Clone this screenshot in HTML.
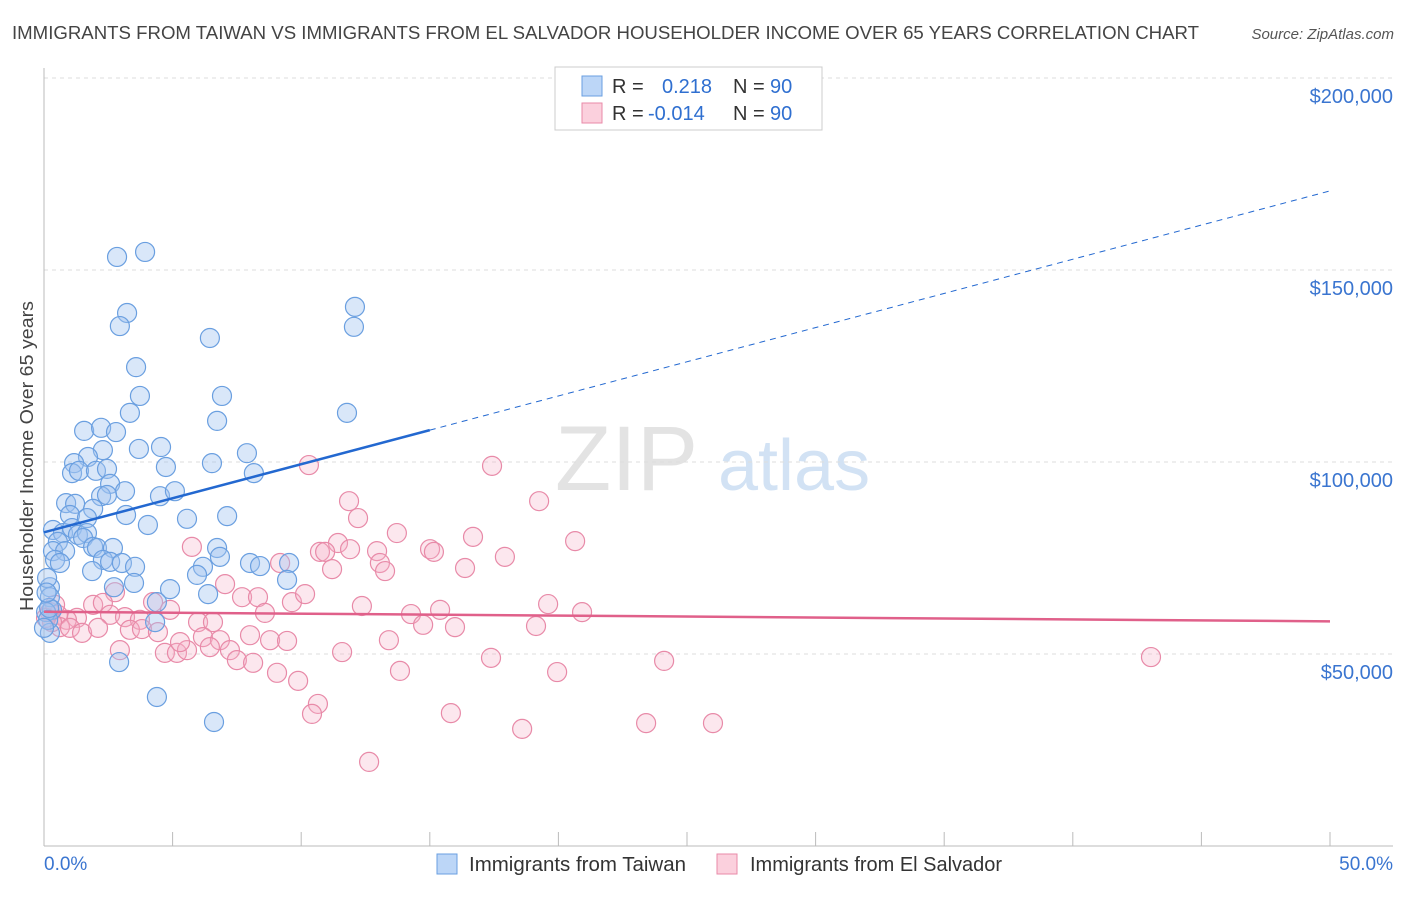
<!DOCTYPE html>
<html><head><meta charset="utf-8"><style>
body{margin:0;background:#fff;font-family:"Liberation Sans",sans-serif}
svg text{font-family:"Liberation Sans",sans-serif}
</style></head><body>
<svg id="c" width="1406" height="892" xmlns="http://www.w3.org/2000/svg">
<text x="12" y="39" font-size="18" fill="#444" textLength="1187" lengthAdjust="spacingAndGlyphs">IMMIGRANTS FROM TAIWAN VS IMMIGRANTS FROM EL SALVADOR HOUSEHOLDER INCOME OVER 65 YEARS CORRELATION CHART</text>
<text x="1394" y="39" font-size="15" fill="#555" font-style="italic" text-anchor="end">Source: ZipAtlas.com</text>
<text transform="translate(33,456) rotate(-90)" font-size="18" fill="#444" text-anchor="middle" textLength="310" lengthAdjust="spacingAndGlyphs">Householder Income Over 65 years</text>
<text x="555" y="490" font-size="92" fill="#ddd" font-family="Liberation Serif" opacity="0.8">ZIP</text>
<text x="718" y="490" font-size="72" fill="#c8dcf2" opacity="0.8">atlas</text>
<g id="grid"></g><g id="pts"></g><g id="lines"></g>
<g>
<rect x="555" y="67" width="267" height="63" fill="#fff" stroke="#ccc"/>
<rect x="582" y="76" width="20" height="20" fill="#bcd6f7" stroke="#6a9fe0"/>
<rect x="582" y="103" width="20" height="20" fill="#fbd0dd" stroke="#e88aa8"/>
<text x="612" y="93" font-size="20" fill="#333">R =</text>
<text x="662" y="93" font-size="20" fill="#2f6fd0">0.218</text>
<text x="733" y="93" font-size="20" fill="#333">N =</text>
<text x="770" y="93" font-size="20" fill="#2f6fd0">90</text>
<text x="612" y="120" font-size="20" fill="#333">R =</text>
<text x="648" y="120" font-size="20" fill="#2f6fd0">-0.014</text>
<text x="733" y="120" font-size="20" fill="#333">N =</text>
<text x="770" y="120" font-size="20" fill="#2f6fd0">90</text>
</g>
<g>
<rect x="437" y="854" width="20" height="20" fill="#bcd6f7" stroke="#6a9fe0"/>
<text x="469" y="871" font-size="20" fill="#333" textLength="217" lengthAdjust="spacingAndGlyphs">Immigrants from Taiwan</text>
<rect x="717" y="854" width="20" height="20" fill="#fbd0dd" stroke="#e88aa8"/>
<text x="750" y="871" font-size="20" fill="#333" textLength="252" lengthAdjust="spacingAndGlyphs">Immigrants from El Salvador</text>
</g>
</svg>
<script>
const yTicks=[50000,100000,150000,200000];
const yTickLabels=["$50,000","$100,000","$150,000","$200,000"];
const xTickLabels=["0.0%","50.0%"];
const blueX=[2.84,3.93,3.23,2.95,12.09,12.05,6.45,3.58,3.73,6.92,3.34,11.78,6.73,6.61,1.56,2.22,2.80,3.69,4.55,2.29,1.71,1.17,1.09,1.36,2.02,2.45,4.74,6.53,7.89,8.16,2.57,3.15,2.22,2.45,4.51,5.09,0.86,1.21,1.01,1.91,1.67,3.19,4.04,5.56,7.12,0.35,0.74,1.09,1.32,1.67,0.54,1.52,0.35,0.82,1.91,2.06,2.68,0.43,0.62,2.29,2.57,3.03,3.54,1.87,6.73,6.84,6.18,5.95,8.01,8.40,9.53,9.45,3.50,2.72,6.38,4.90,0.23,0.23,0.31,4.39,4.32,0.23,2.92,4.39,0.12,0.08,0.16,0,0.2,0.1];
const blueY=[153.4,154.7,138.8,135.4,140.4,135.2,132.3,124.7,117.2,117.2,112.8,112.8,110.7,32.3,108.1,108.9,107.8,103.4,103.9,103.1,101.3,99.7,97.1,97.7,97.7,98.2,98.7,99.7,102.3,97.1,94.3,92.4,91.1,91.4,91.1,92.4,89.3,89.1,86.2,87.8,85.4,86.2,83.6,85.2,85.9,82.3,81.5,82.8,81.0,81.5,79.2,80.2,76.8,76.8,77.9,77.6,77.6,74.5,73.7,74.5,74.0,73.7,72.7,71.6,77.6,75.3,72.7,70.6,73.7,72.9,73.7,69.3,68.5,67.4,65.6,66.9,67.4,64.8,61.5,63.5,58.3,55.5,47.9,38.8,69.8,60.9,58.9,56.8,62.0,66.0];
const pinkX=[5.75,10.30,10.73,9.18,7.04,7.70,8.32,8.59,9.64,10.15,4.24,4.90,2.76,1.91,2.29,2.57,3.15,3.73,1.28,0.89,0.54,0.62,1.01,1.48,2.10,3.34,3.81,4.43,5.99,6.57,6.18,6.84,6.45,7.23,8.01,8.79,9.45,2.95,4.70,5.17,5.56,5.29,7.50,8.13,9.06,9.88,11.86,19.25,12.21,13.72,11.43,16.68,20.65,15.01,15.16,12.95,11.90,10.93,17.92,13.06,13.26,11.20,16.37,12.36,14.27,15.40,19.60,20.92,14.74,15.98,13.41,11.59,17.38,13.84,19.95,24.11,43.04,10.65,10.42,15.82,18.59,23.41,26.01,12.64,0.23,0.31,0.08,0.43,17.42,19.13];
const pinkY=[77.9,99.2,76.6,73.7,68.2,64.8,64.8,60.7,63.5,65.6,63.5,61.5,66.1,62.8,63.3,60.2,59.6,58.9,59.4,58.9,60.2,57.0,56.8,55.5,56.8,56.3,56.5,55.7,58.3,58.3,54.4,53.6,51.8,51.0,54.9,53.6,53.4,51.0,50.3,50.3,51.0,53.1,48.4,47.7,45.1,43.0,89.8,89.8,85.4,81.5,78.9,80.5,79.4,77.3,76.6,76.8,77.3,76.6,75.3,73.7,71.6,72.1,72.4,62.5,60.4,61.5,63.0,60.9,57.6,57.0,53.6,50.5,49.0,45.6,45.3,48.2,49.2,37.0,34.4,34.6,30.5,32.0,32.0,21.9,60.9,58.3,59.4,62.8,99.0,57.3];
const blueFit=[[0,81700],[15,108300],[50,170600]];
const pinkFit=[[0,61000],[50,58500]];
const NS="http://www.w3.org/2000/svg";
const X=v=>44+v/50*1286;
const Y=v=>846-v/50000*192;
function mk(t,a,p){const e=document.createElementNS(NS,t);for(const k in a)e.setAttribute(k,a[k]);p.appendChild(e);return e;}
const grid=document.getElementById('grid');
yTicks.forEach((t,i)=>{
 const l=mk('line',{x1:44,x2:1393,y1:Y(t),y2:Y(t),stroke:'#ddd','stroke-dasharray':'4,4'},grid);
 
 
 const tx=mk('text',{x:1393,y:Y(t)+25,'font-size':20,fill:'#3a75d0','text-anchor':'end'},grid);
 tx.textContent=yTickLabels[i];
 
 
});
const ax=mk('line',{x1:44,x2:44,y1:68,y2:846,stroke:'#bbb'},grid);


const bx=mk('line',{x1:44,x2:1393,y1:846,y2:846,stroke:'#bbb'},grid);


for(let v=5;v<=50;v+=5){
 const t=mk('line',{x1:X(v),x2:X(v),y1:832,y2:846,stroke:'#bbb'},grid);
 
 
}
const x0=mk('text',{x:44,y:870,'font-size':19,fill:'#3a75d0'},grid);x0.textContent=xTickLabels[0];


const x1=mk('text',{x:1393,y:870,'font-size':19,fill:'#3a75d0','text-anchor':'end'},grid);x1.textContent=xTickLabels[1];


const pts=document.getElementById('pts');
pinkX.forEach((v,i)=>{
 const c=mk('circle',{cx:X(v),cy:Y(pinkY[i]*1000),r:9.5,fill:'rgba(246,175,198,0.3)',stroke:'#e88aa8','stroke-width':1.2},pts);
 
 
});
blueX.forEach((v,i)=>{
 const c=mk('circle',{cx:X(v),cy:Y(blueY[i]*1000),r:9.5,fill:'rgba(160,196,240,0.4)',stroke:'#6a9fe0','stroke-width':1.2},pts);
 
 
});
const lines=document.getElementById('lines');
const b1=mk('line',{x1:X(blueFit[0][0]),y1:Y(blueFit[0][1]),x2:X(blueFit[1][0]),y2:Y(blueFit[1][1]),stroke:'#2368d0','stroke-width':2.5},lines);


const b2=mk('line',{x1:X(blueFit[1][0]),y1:Y(blueFit[1][1]),x2:X(blueFit[2][0]),y2:Y(blueFit[2][1]),stroke:'#2368d0','stroke-width':1,'stroke-dasharray':'6,5'},lines);


const p1=mk('line',{x1:X(pinkFit[0][0]),y1:Y(pinkFit[0][1]),x2:X(pinkFit[1][0]),y2:Y(pinkFit[1][1]),stroke:'#e0608a','stroke-width':2.5},lines);


</script>
</body></html>
